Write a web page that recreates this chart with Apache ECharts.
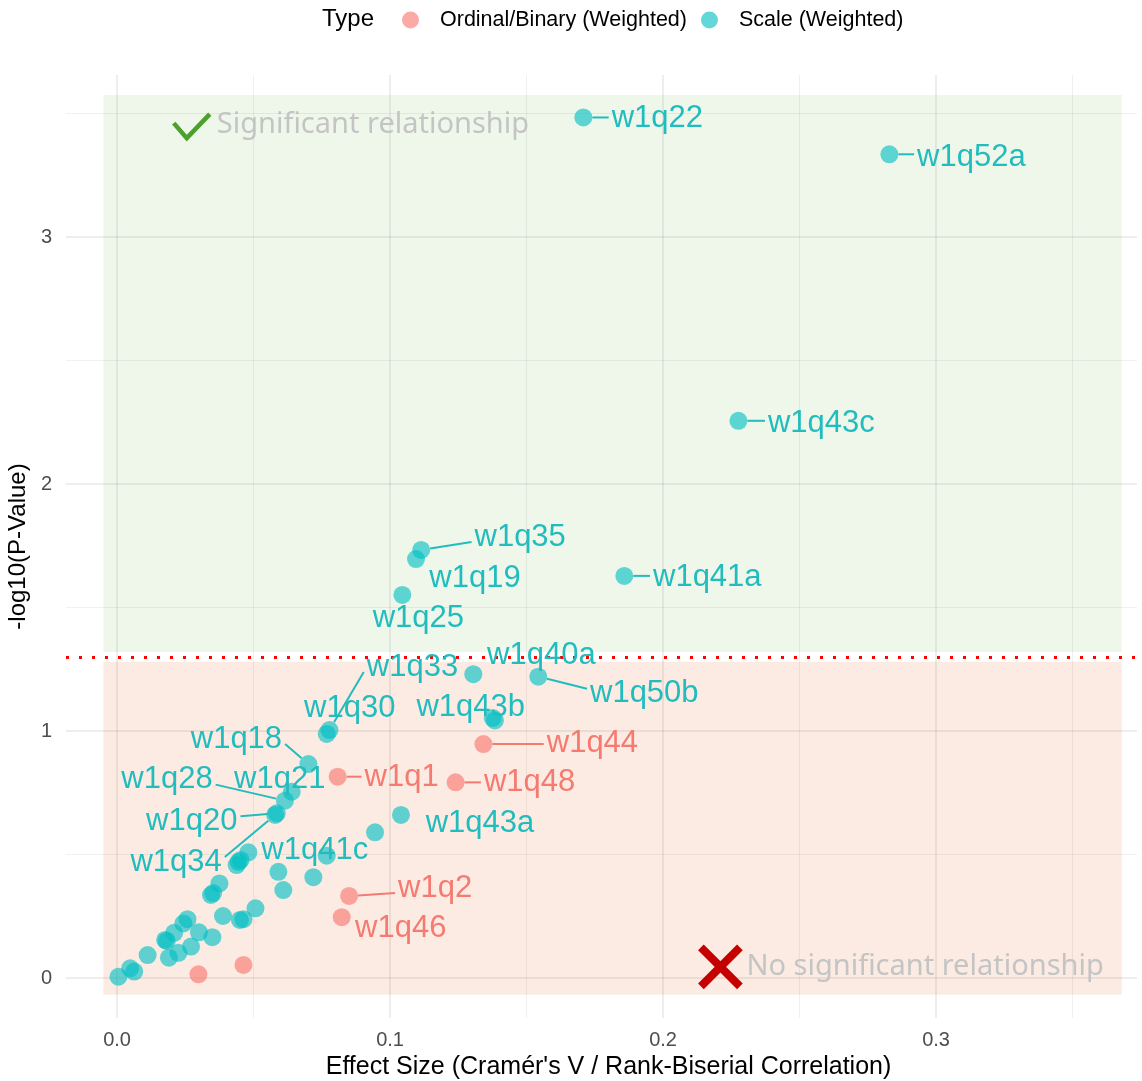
<!DOCTYPE html>
<html>
<head>
<meta charset="utf-8">
<title>Effect size vs p-value</title>
<script src="https://cdn.jsdelivr.net/npm/echarts@6/dist/echarts.min.js"></script>
<style>
  html, body { margin: 0; padding: 0; background: #ffffff; }
  #main { width: 1142px; height: 1081px; }
</style>
</head>
<body>
<div id="main"></div>
<script>
// values
var scaleNames = ['', '', '', '', '', '', '', '', '', '', '', '', '', '', '', '', '', '', '', '', '', '', '', '', '', '', '', '',
  'w1q41c', 'w1q34', 'w1q20', 'w1q28', 'w1q21', 'w1q18', 'w1q30', 'w1q33', '', 'w1q43a', 'w1q40a', 'w1q50b',
  'w1q43b', '', 'w1q25', 'w1q19', 'w1q35', 'w1q41a', 'w1q43c', 'w1q22', 'w1q52a'];
var scaleEffect = [0.0005, 0.0048, 0.0063, 0.0112, 0.0176, 0.0182, 0.0190, 0.0209, 0.0225, 0.0243, 0.0258, 0.0271, 0.0300, 0.0349,
  0.0344, 0.0352, 0.0375, 0.0388, 0.0450, 0.0463, 0.0507, 0.0438, 0.0445, 0.0453, 0.0481, 0.0591, 0.0609, 0.0719,
  0.0768, 0.0579, 0.0585, 0.0615, 0.0640, 0.0701, 0.0768, 0.0778, 0.0945, 0.1040, 0.1305, 0.1543,
  0.1376, 0.1384, 0.1045, 0.1095, 0.1114, 0.1858, 0.2276, 0.1708, 0.2829];
var scaleLogP = [0.005, 0.039, 0.026, 0.093, 0.154, 0.150, 0.082, 0.183, 0.102, 0.221, 0.238, 0.127, 0.185, 0.165,
  0.336, 0.344, 0.383, 0.251, 0.235, 0.238, 0.282, 0.457, 0.470, 0.478, 0.509, 0.430, 0.356, 0.408,
  0.495, 0.660, 0.667, 0.718, 0.754, 0.866, 0.988, 1.004, 0.590, 0.660, 1.230, 1.220,
  1.053, 1.043, 1.551, 1.696, 1.733, 1.628, 2.256, 3.484, 3.335];

var ordNames = ['', '', 'w1q1', 'w1q2', 'w1q46', 'w1q48', 'w1q44'];
var ordEffect = [0.0298, 0.0463, 0.0808, 0.0850, 0.0823, 0.1240, 0.1342];
var ordLogP = [0.015, 0.053, 0.815, 0.332, 0.246, 0.792, 0.947];

var xMajor = [0, 0.1, 0.2, 0.3];
var xMinor = [0.05, 0.15, 0.25, 0.35];
var yMajor = [0, 1, 2, 3];
var yMinor = [0.5, 1.5, 2.5, 3.5];
var threshold = -Math.log10(0.05);

// shaded bands (effect range, -log10 p range)
var bandX = [-0.005, 0.368];
var sigBand = [1.32, 3.575];
var nonSigBand = [-0.068, 1.28];

var noteText = ['Significant relationship', 'No significant relationship'];
var noteX = [0.027, 0.221];
var noteY = [3.453, 0.045];
var noteMark = ['check', 'cross'];

// where each repelled label sits relative to its point (px) and whether a segment is drawn
var nudge = {
  w1q22: [74, 1, 1], w1q52a: [82, 3, 1], w1q43c: [83, 3, 1], w1q35: [99, -13, 1],
  w1q19: [59, 19, 0], w1q25: [16, 24, 0], w1q41a: [83, 2, 1], w1q40a: [68, -19, 0],
  w1q50b: [106, 17, 1], w1q33: [83, -63, 1], w1q30: [23, -26, 0], w1q43b: [-22, -10, 0],
  w1q44: [109, -1, 1], w1q18: [-72, -25, 1], w1q1: [64, 1, 1], w1q48: [74, 0, 1],
  w1q28: [-118, -21, 1], w1q21: [-12, -12, 0], w1q20: [-85, 8, 1], w1q34: [-99, 47, 1],
  w1q43a: [79, 8, 0], w1q41c: [-12, -5, 0], w1q2: [86, -8, 1], w1q46: [59, 11, 0]
};

var TEAL = '#00BFC4', SALMON = '#F8766D';
var TEAL_TEXT = '#21bcbd', SALMON_TEXT = '#f57a70';
var FONT = '"Liberation Sans", Arial, sans-serif';
var LABEL_SIZE = 31;

var ctx = document.createElement('canvas').getContext('2d');
ctx.font = LABEL_SIZE + 'px ' + FONT;
function textWidth(s) { return ctx.measureText(s).width; }

var scaleData = scaleEffect.map(function (x, i) { return [x, scaleLogP[i], scaleNames[i]]; });
var ordData = ordEffect.map(function (x, i) { return [x, ordLogP[i], ordNames[i]]; });

var labelData = [];
scaleNames.forEach(function (n, i) { if (n) labelData.push([scaleEffect[i], scaleLogP[i], n, 1]); });
ordNames.forEach(function (n, i) { if (n) labelData.push([ordEffect[i], ordLogP[i], n, 0]); });

function renderLabel(params, api) {
  var d = labelData[params.dataIndex];
  var p = api.coord([d[0], d[1]]);
  var nd = nudge[d[2]] || [0, 0, 0];
  var cx = p[0] + nd[0], cy = p[1] + nd[1];
  var color = d[3] ? TEAL_TEXT : SALMON_TEXT;
  var children = [{
    type: 'text', x: cx, y: cy,
    style: { text: d[2], fontSize: LABEL_SIZE, fontFamily: FONT, fill: color, align: 'center', verticalAlign: 'middle' }
  }];
  if (nd[2]) {
    var hw = textWidth(d[2]) / 2 + 3, hh = 5;
    var qx = Math.max(cx - hw, Math.min(p[0], cx + hw));
    var qy = Math.max(cy - hh, Math.min(p[1], cy + hh));
    var dx = qx - p[0], dy = qy - p[1];
    var len = Math.sqrt(dx * dx + dy * dy);
    if (len > 14) {
      children.push({
        type: 'line',
        shape: { x1: p[0] + dx / len * 9, y1: p[1] + dy / len * 9, x2: qx, y2: qy },
        style: { stroke: color, lineWidth: 2 }
      });
    }
  }
  return { type: 'group', children: children };
}

function renderNote(params, api) {
  var i = params.dataIndex;
  var p = api.coord([noteX[i], noteY[i]]);
  var mark;
  if (noteMark[i] === 'check') {
    mark = {
      type: 'polyline',
      shape: { points: [[p[0] - 17, p[1] - 2], [p[0] - 4, p[1] + 13], [p[0] + 19, p[1] - 11]] },
      style: { stroke: '#4aa12c', lineWidth: 4.5, fill: null, lineJoin: 'miter' }
    };
  } else {
    var s = 19.5;
    mark = {
      type: 'group',
      children: [
        { type: 'line', shape: { x1: p[0] - s, y1: p[1] - s, x2: p[0] + s, y2: p[1] + s }, style: { stroke: '#c40000', lineWidth: 8 } },
        { type: 'line', shape: { x1: p[0] - s, y1: p[1] + s, x2: p[0] + s, y2: p[1] - s }, style: { stroke: '#c40000', lineWidth: 8 } }
      ]
    };
  }
  return {
    type: 'group',
    children: [mark, {
      type: 'text', x: p[0] + 26, y: p[1],
      style: { text: noteText[i], fontSize: 29, fontFamily: '"Noto Sans", sans-serif', fill: '#c4c4c4', align: 'left', verticalAlign: 'middle' }
    }]
  };
}

function gridLines(vals, axis, width, alpha) {
  return vals.map(function (v) {
    var o = { lineStyle: { color: 'rgba(0,0,0,' + alpha + ')', width: width, type: 'solid' } };
    o[axis] = v;
    return o;
  });
}

var chart = echarts.init(document.getElementById('main'), null, { renderer: 'canvas' });

var option = {
  animation: false,
  backgroundColor: '#ffffff',
  textStyle: { fontFamily: FONT },
  graphic: [{
    type: 'text', left: 322, top: 7,
    style: { text: 'Type', fontSize: 24, fontFamily: FONT, fill: '#000000' }
  }],
  legend: {
    data: ['Ordinal/Binary (Weighted)', 'Scale (Weighted)'],
    left: 402, top: 9, padding: 0,
    icon: 'circle', itemWidth: 17, itemHeight: 17, itemGap: 14,
    textStyle: { fontSize: 21.5, color: '#000000', padding: [0, 0, 0, 16] }
  },
  grid: { left: 66, right: 5, top: 75, bottom: 63, outerBoundsMode: 'none' },
  xAxis: {
    type: 'value', min: -0.0187, max: 0.3736,
    axisLine: { show: false }, axisTick: { show: false }, splitLine: { show: false },
    axisLabel: {
      fontSize: 20, color: '#4d4d4d', margin: 12,
      formatter: function (v) { return Math.abs(v * 10 - Math.round(v * 10)) < 1e-6 ? v.toFixed(1) : ''; }
    },
    name: "Effect Size (Cram\u00e9r's V / Rank-Biserial Correlation)",
    nameLocation: 'middle', nameGap: 36,
    nameTextStyle: { fontSize: 25, color: '#000000', padding: [0, 0, 0, 14] }
  },
  yAxis: {
    type: 'value', min: -0.162, max: 3.656,
    axisLine: { show: false }, axisTick: { show: false }, splitLine: { show: false },
    axisLabel: {
      fontSize: 20, color: '#4d4d4d', margin: 14,
      formatter: function (v) { return Math.abs(v - Math.round(v)) < 1e-6 ? String(Math.round(v)) : ''; }
    },
    name: '-log10(P-Value)', nameLocation: 'middle', nameGap: 26, nameRotate: 90,
    nameTextStyle: { fontSize: 24, color: '#000000' }
  },
  series: [
    {
      name: 'bands', type: 'line', data: [], silent: true,
      markArea: {
        silent: true, z: 0,
        data: [
          [{ xAxis: bandX[0], yAxis: sigBand[0], itemStyle: { color: '#eff7eb' } }, { xAxis: bandX[1], yAxis: sigBand[1] }],
          [{ xAxis: bandX[0], yAxis: nonSigBand[0], itemStyle: { color: '#fbebe3' } }, { xAxis: bandX[1], yAxis: nonSigBand[1] }]
        ]
      }
    },
    {
      name: 'grid', type: 'line', data: [], silent: true,
      markLine: {
        silent: true, z: 1, symbol: 'none', label: { show: false },
        emphasis: { disabled: true },
        data: [].concat(
          gridLines(xMinor, 'xAxis', 1, 0.06), gridLines(yMinor, 'yAxis', 1, 0.06),
          gridLines(xMajor, 'xAxis', 2, 0.065), gridLines(yMajor, 'yAxis', 2, 0.065),
          [{ yAxis: threshold, lineStyle: { color: '#ff0000', width: 3, type: [3, 10] } }]
        )
      }
    },
    {
      name: 'Ordinal/Binary (Weighted)', type: 'scatter', z: 3,
      symbolSize: 18, data: ordData,
      itemStyle: { color: SALMON, opacity: 0.62 }
    },
    {
      name: 'Scale (Weighted)', type: 'scatter', z: 3,
      symbolSize: 18, data: scaleData,
      itemStyle: { color: TEAL, opacity: 0.62 }
    },
    {
      name: 'labels', type: 'custom', z: 4, silent: true,
      data: labelData.map(function (d) { return [d[0], d[1]]; }),
      encode: { x: 0, y: 1 },
      renderItem: renderLabel
    },
    {
      name: 'notes', type: 'custom', z: 4, silent: true,
      data: noteX.map(function (x, i) { return [x, noteY[i]]; }),
      encode: { x: 0, y: 1 },
      renderItem: renderNote
    }
  ]
};

chart.setOption(option);
</script>
</body>
</html>
